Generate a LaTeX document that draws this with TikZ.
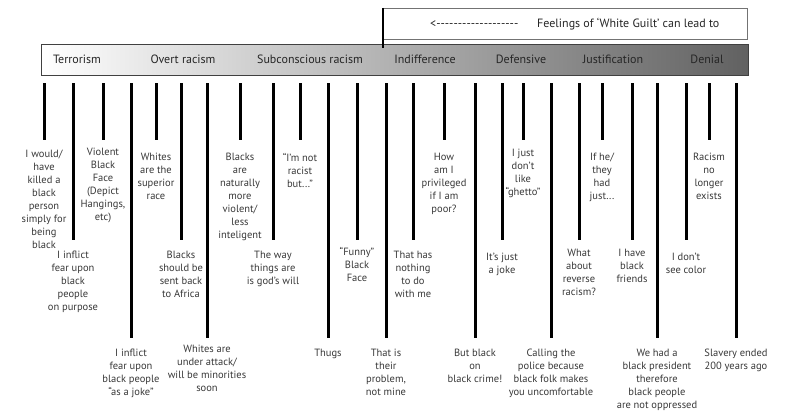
\documentclass[tikz,border=0pt]{standalone}
\usepackage{fontspec}
\setmainfont{PT Sans}
\usepackage{tikz}

\newcommand{\dashrow}{\foreach \k in {1,...,19}{-{}}}

\begin{document}
\begin{tikzpicture}[x=1pt, y=-1pt,
    lbl/.style={anchor=north, align=center, inner sep=0pt, text=black!78,
                font=\fontsize{10.5}{13}\selectfont},
    cat/.style={inner sep=0pt, text=black!85, font=\fontsize{12}{14}\selectfont},
    bar/.style={line width=3pt, black}]
  \useasboundingbox (0,0) rectangle (800,420);
  % scale and the white guilt box
  \node[draw=black!75, line width=1pt, anchor=north west, inner sep=0pt,
        minimum width=707pt, minimum height=31pt,
        left color=white, middle color=black!22, right color=black!62] (scale) at (41,44) {};
  \node[draw=black!55, fill=white, anchor=north west, inner sep=0pt,
        minimum width=364pt, minimum height=31pt] (guilt) at (383,8) {};
  \coordinate (guiltend) at (383,48);
  \draw[line width=2pt] (guilt.north west) -- (guiltend);
  \node[cat, anchor=west] (leadarrow) at (430,24) {<\dashrow};
  \node[cat, anchor=west] (leadtxt) at (537,24) {Feelings of ‘White Guilt’ can lead to};
  \node[cat] (terror) at (77,59) {Terrorism};
  \node[cat] (overt) at (183,59) {Overt racism};
  \node[cat] (subcon) at (310,59) {Subconscious racism};
  \node[cat] (indiff) at (425,59) {Indifference};
  \node[cat] (defens) at (521,59) {Defensive};
  \node[cat] (justif) at (613,59) {Justification};
  \node[cat] (denial) at (707,59) {Denial};
  % statements
  \node[lbl] (l1) at (44,150) {I would/\\have\\killed a\\black\\person\\simply for\\being\\black};
  \node[lbl] (l2) at (73,251) {I inflict\\fear upon\\black\\people\\on purpose};
  \node[lbl] (l3) at (103,148) {Violent\\Black\\Face\\(Depict\\Hangings,\\etc)};
  \node[lbl] (l4) at (131,349) {I inflict\\fear upon\\black people\\“as a joke”};
  \node[lbl] (l5) at (156,153) {Whites\\are the\\superior\\race};
  \node[lbl] (l6) at (181,251) {Blacks\\should be\\sent back\\to Africa};
  \node[lbl] (l7) at (207,345) {Whites are\\under attack/\\will be minorities\\soon};
  \node[lbl] (l8) at (240,153) {Blacks\\are\\naturally\\more\\violent/\\less\\inteligent};
  \node[lbl] (l9) at (273,251) {The way\\things are\\is god’s will};
  \node[lbl] (l10) at (300,153) {“I’m not\\racist\\but...”};
  \node[lbl] (l11) at (328,349) {Thugs};
  \node[lbl] (l12) at (357,247) {“Funny”\\Black\\Face};
  \node[lbl] (l13) at (386,349) {That is\\their\\problem,\\not mine};
  \node[lbl] (l14) at (413,251) {That has\\nothing\\to do\\with me};
  \node[lbl] (l15) at (444,153) {How\\am I\\privileged\\if I am\\poor?};
  \node[lbl] (l16) at (475,349) {But black\\on\\black crime!};
  \node[lbl] (l17) at (502,253) {It’s just\\a joke};
  \node[lbl] (l18) at (523,149) {I just\\don’t\\like\\“ghetto”};
  \node[lbl] (l19) at (551,349) {Calling the\\police because\\black folk makes\\you uncomfortable};
  \node[lbl] (l20) at (579,249) {What\\about\\reverse\\racism?};
  \node[lbl] (l21) at (602,153) {If he/\\they\\had\\just...};
  \node[lbl] (l22) at (632,249) {I have\\black\\friends};
  \node[lbl] (l23) at (657,349) {We had a\\black president\\therefore\\black people\\are not oppressed};
  \node[lbl] (l24) at (686,253) {I don’t\\see color};
  \node[lbl] (l25) at (709,153) {Racism\\no\\longer\\exists};
  \node[lbl] (l26) at (736,349) {Slavery ended\\200 years ago};
  % bars: short, medium, long
  \coordinate (top) at (0,83);
  \coordinate (s) at (0,140);
  \coordinate (m) at (0,240);
  \coordinate (g) at (0,338);
  \foreach \n/\lv in {1/s,2/m,3/s,4/g,5/s,6/m,7/g,8/s,9/m,10/s,11/g,12/m,13/g,
                      14/m,15/s,16/g,17/m,18/s,19/g,20/m,21/s,22/m,23/g,24/m,25/s,26/g}
    \draw[bar] (l\n |- top) -- (l\n |- \lv);
\end{tikzpicture}
\end{document}
